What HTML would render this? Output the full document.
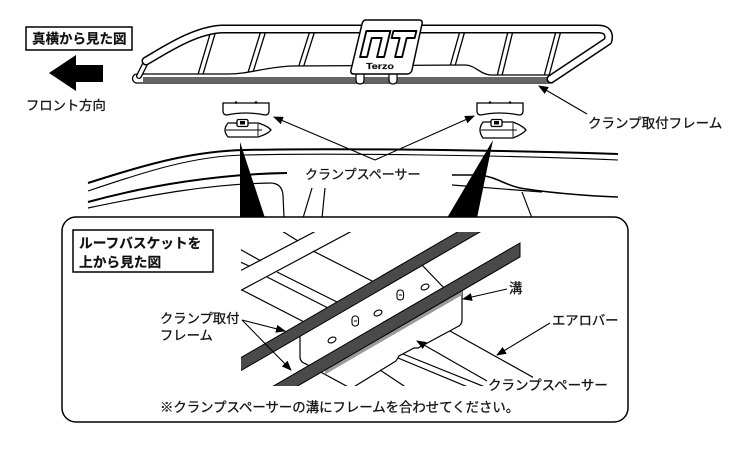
<!DOCTYPE html>
<html><head><meta charset="utf-8">
<style>
html,body{margin:0;padding:0;background:#fff;}
svg{display:block;}
text{font-family:"Liberation Sans","Noto Sans CJK JP",sans-serif;fill:#161616;stroke:#161616;stroke-width:0.3;}
.b{font-weight:bold;fill:#111;stroke:#111;stroke-width:0.2;}
</style></head><body>
<svg width="730" height="455" viewBox="0 0 730 455" xmlns="http://www.w3.org/2000/svg">
<defs>
<marker id="ah" markerWidth="10" markerHeight="8" refX="9" refY="4" orient="auto" markerUnits="userSpaceOnUse"><path d="M0,0 L10,4 L0,8 z" fill="#000"/></marker>
<clipPath id="cl"><rect x="241" y="232" width="292" height="154"/></clipPath>
</defs>

<!-- title box -->
<rect x="26" y="27" width="106" height="23" fill="none" stroke="#000" stroke-width="1.5"/>
<text x="32" y="43.5" font-size="13.5" class="b">真横から見た図</text>
<polygon points="49,73 76,55 76,65 103,65 103,82 76,82 76,91" fill="#000"/>
<text x="26" y="110" font-size="13.3">フロント方向</text>

<!-- rack crossbars -->
<g stroke-linecap="round" fill="none">
  <g stroke="#000" stroke-width="6">
    <path d="M214,29 L200,76"/><path d="M264,29 L250,74"/><path d="M313,29 L300,70"/>
    <path d="M463,29 L452,68"/><path d="M511,29 L499,78"/><path d="M559,29 L546,78"/>
  </g>
  <g stroke="#fff" stroke-width="3.4">
    <path d="M214,29 L200,76"/><path d="M264,29 L250,74"/><path d="M313,29 L300,70"/>
    <path d="M463,29 L452,68"/><path d="M511,29 L499,78"/><path d="M559,29 L546,78"/>
  </g>
</g>
<!-- bottom rail -->
<path d="M137,74 L228,74 C250,74 265,67 292,66 L465,65 C475,65 480,74 490,75 L552,75 L552,83 L137,83 A4.5,4.5 0 0 1 137,74 Z" fill="#fff" stroke="#000" stroke-width="1.3"/>
<rect x="143" y="77" width="407" height="5" fill="#666"/>
<!-- post -->
<path d="M146,62 L139,76" stroke="#000" stroke-width="6" stroke-linecap="round"/>
<path d="M146,62 L139,76" stroke="#fff" stroke-width="3.4" stroke-linecap="round"/>
<!-- upper tube -->
<path d="M146,61 C165,50 195,30 222,29 L598,29 Q611,29 608,41 L551,79" fill="none" stroke="#000" stroke-width="9" stroke-linecap="round" stroke-linejoin="round"/>
<path d="M146,61 C165,50 195,30 222,29 L598,29 Q611,29 608,41 L551,79" fill="none" stroke="#fff" stroke-width="6" stroke-linecap="round" stroke-linejoin="round"/>

<!-- logo -->
<path d="M356,74 L356,80 Q356,84 360,84 Q364,84 364,80 L364,74" fill="#fff" stroke="#000" stroke-width="1.2"/>
<path d="M389,74 L389,80 Q389,84 393,84 Q397,84 397,80 L397,74" fill="#fff" stroke="#000" stroke-width="1.2"/>
<path d="M366,20 L419,20 Q423,20 422,24 L412,70 Q411,74 407,74 L354,74 Q350,74 351,70 L362,24 Q363,20 366,20 Z" fill="#fff" stroke="#000" stroke-width="1.5"/>
<g transform="matrix(1,0,-0.24,1,4.8,0)" fill="#fff" stroke="#000" stroke-width="1.9" stroke-linejoin="round">
  <path d="M369,31 L393,31 L393,57 L386,57 L386,38 L376,38 L376,57 L369,57 Z"/>
  <path d="M396,31 L419,31 L419,38 L411,38 L411,57 L404,57 L404,38 L396,38 Z"/>
</g>
<text x="366" y="69" font-size="8.5" class="b" textLength="28" lengthAdjust="spacingAndGlyphs">Terzo</text>

<!-- spacers top -->
<path d="M223,103 L269,103 L269,111 Q269,115 265,115 Q245,111 227,115 Q223,115 223,111 Z" fill="#fff" stroke="#000" stroke-width="1.3"/>
<circle cx="236" cy="102.5" r="1.3"/><circle cx="256" cy="102.5" r="1.3"/>
<path d="M228,123 L258,123 Q268,126 271,130 Q268,134 258,137 L228,137 Q222,130 228,123 Z" fill="#fff" stroke="#000" stroke-width="1.3"/>
<path d="M226,130 L262,130 M258,124 L258,136" stroke="#000" stroke-width="0.9"/>
<rect x="237" y="119.5" width="11" height="7" rx="1.5" fill="#fff" stroke="#000" stroke-width="1.3"/>
<rect x="240" y="121" width="5" height="3.5" fill="#000"/>

<path d="M477,103 L523,103 L523,111 Q523,115 519,115 Q499,111 481,115 Q477,115 477,111 Z" fill="#fff" stroke="#000" stroke-width="1.3"/>
<circle cx="490" cy="102.5" r="1.3"/><circle cx="510" cy="102.5" r="1.3"/>
<path d="M483,122 L513,122 Q523,126 526,130 Q523,134 513,138 L483,138 Q477,130 483,122 Z" fill="#fff" stroke="#000" stroke-width="1.3"/>
<path d="M481,130 L517,130 M513,123 L513,137" stroke="#000" stroke-width="0.9"/>
<rect x="491" y="119.5" width="11" height="7" rx="1.5" fill="#fff" stroke="#000" stroke-width="1.3"/>
<rect x="494" y="121" width="5" height="3.5" fill="#000"/>

<!-- top arrows -->
<g stroke="#000" stroke-width="1.1" fill="none">
  <path d="M375,160 L274,117" marker-end="url(#ah)"/>
  <path d="M375,160 L474,116" marker-end="url(#ah)"/>
  <path d="M587,114 L539,86" marker-end="url(#ah)"/>
</g>
<text x="588" y="128" font-size="13.5">クランプ取付フレーム</text>

<!-- roof lines -->
<g fill="none" stroke="#000">
  <path d="M88,183 C150,163 195,151 245,150 C330,148 500,150 618,154" stroke-width="2"/>
  <path d="M88,191 C150,170 195,156 245,155 C330,153 500,155 618,160" stroke-width="1.1"/>
  <path d="M88,202 C150,185 220,174 287,173" stroke-width="2"/>
  <path d="M88,208 C150,195 210,184 270,183 Q282,183 283,195 L284,218" stroke-width="1.2"/>
  <path d="M452,175 L478,175 C495,176 505,185 520,188 C550,193 590,196 618,197" stroke-width="1.6"/>
  <path d="M452,185 L542,192" stroke-width="1.2"/>
  <path d="M522,192 L532,218" stroke-width="1.1"/>
  <path d="M312,188 L303,218" stroke-width="1.2"/>
  <path d="M325,188 L322,218" stroke-width="1.2"/>
</g>
<text x="305" y="179" font-size="13">クランプスペーサー</text>
<polygon points="240,142 240,218 265,218" fill="#000"/>
<polygon points="493,140 447,218 477,218" fill="#000"/>

<!-- inset -->
<rect x="62" y="217" width="566" height="205" rx="14" fill="#fff" stroke="#000" stroke-width="1.5"/>
<rect x="73" y="230" width="140" height="42" fill="none" stroke="#000" stroke-width="1.5"/>
<text x="79" y="248" font-size="13.7" class="b">ルーフバスケットを</text>
<text x="79" y="267" font-size="13.7" class="b">上から見た図</text>

<g clip-path="url(#cl)">
  <g stroke="#000" stroke-width="1.2" fill="none">
    <path d="M236,273 L316,231"/>
    <path d="M236,293 L352,231"/>
    <path d="M236,247 L261,261"/>
    <path d="M236,260 L249,266"/>
    <path d="M282,231 L298,241"/>
    <path d="M313,251 L378,284"/>
    <path d="M267,277 L332,310"/>
    <path d="M277,272 L343,305"/>
    <path d="M242,290 L308,324"/>
    <!-- spacer outline -->
    <path d="M300,335 L300,357 Q300,362 306,364 L350,388"/>
    <path d="M462,290 L462,320 Q462,325 457,327 L418,348 L414,348 L399,356 L396,361 L352,388"/>
    <path d="M421,264 L445,289"/>
    <!-- aero bar & lines -->
    <path d="M450,331 L536,379"/>
    <path d="M403,354 L490,389"/>
    <path d="M398,358 L475,390"/>
    <path d="M380,370 L410,390"/>
  </g>
  <!-- holes & pins -->
  <g fill="#fff" stroke="#000" stroke-width="1.1">
    <ellipse cx="332" cy="340" rx="4.2" ry="2.6" transform="rotate(-25 332 340)"/>
    <ellipse cx="378" cy="313" rx="4.2" ry="2.6" transform="rotate(-25 378 313)"/>
    <ellipse cx="425" cy="287" rx="4.2" ry="2.6" transform="rotate(-25 425 287)"/>
    <rect x="352" y="316" width="6.5" height="10" rx="3"/>
    <rect x="397" y="290" width="6.5" height="10" rx="3"/>
  </g>
  <path d="M354,321 L357,321 M399,295 L402,295" stroke="#000" stroke-width="0.9"/>
  <!-- groove hatch -->
  <polygon points="325,370 462,290.6 462,295 325,374.5" fill="#9a9a9a"/>
  <!-- frame bars -->
  <polygon points="236,360.5 464.4,228 486.8,228 236,373.5" fill="#4a4a4a" stroke="#000" stroke-width="1"/>
  <polygon points="266.6,390 520,243 520,257 290.7,390" fill="#4a4a4a" stroke="#000" stroke-width="1"/>
</g>

<g stroke="#000" stroke-width="1.1" fill="none">
  <path d="M242,320 L285,331" marker-end="url(#ah)"/>
  <path d="M242,320 L291,370" marker-end="url(#ah)"/>
  <path d="M507,289 L463,299" marker-end="url(#ah)"/>
  <path d="M550,323 L497,355" marker-end="url(#ah)"/>
  <path d="M487,381 L417,341" marker-end="url(#ah)"/>
</g>
<text x="160" y="323" font-size="13.3">クランプ取付</text>
<text x="160" y="340" font-size="13.3">フレーム</text>
<text x="509" y="293" font-size="13.5">溝</text>
<text x="552" y="325" font-size="13.3">エアロバー</text>
<text x="488" y="390" font-size="13.5">クランプスペーサー</text>
<text x="160" y="412" font-size="13.4">※クランプスペーサーの溝にフレームを合わせてください。</text>
</svg>
</body></html>
